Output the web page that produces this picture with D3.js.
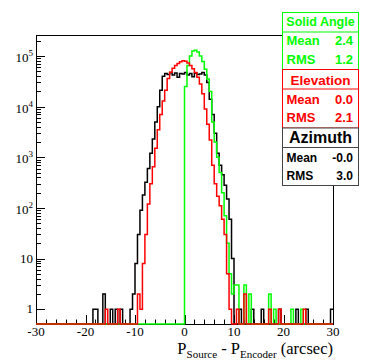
<!DOCTYPE html>
<html>
<head>
<meta charset="utf-8">
<script src="https://cdn.jsdelivr.net/npm/d3@7"></script>
<style>
  html, body { margin: 0; padding: 0; background: #fff; }
  svg { display: block; }
</style>
</head>
<body>
<div id="container"></div>
<script>
// histogram range: 120 bins of 0.5 arcsec from -30 to 30
const xLo = -30, xHi = 30, binWidth = 0.5;

const azimuth = [
  0, 0, 0, 0, 0, 0, 0, 0, 0, 0,
  0, 0, 0, 0, 0, 0, 0, 0, 0, 0,
  0, 0, 0, 1, 1, 0, 0, 2, 0, 0,
  1, 0, 1, 0, 1, 0, 0, 0, 1, 2,
  8, 30, 90, 180, 320, 600, 1200, 2300, 5000, 10000,
  21000, 40000, 45000, 43000, 47000, 42000, 46000, 38000, 45000, 44000,
  47000, 42000, 45000, 39000, 46000, 43000, 44000, 47000, 42000, 30000,
  14000, 7000, 3000, 1200, 700, 450, 280, 150, 60, 10,
  0, 0, 1, 0, 0, 0, 0, 1, 0, 0,
  0, 1, 0, 0, 0, 0, 0, 0, 1, 0,
  0, 0, 0, 0, 0, 1, 0, 0, 0, 1,
  0, 0, 0, 0, 0, 0, 0, 0, 0, 1
];

const elevation = [
  0, 0, 0, 0, 0, 0, 0, 0, 0, 0,
  0, 0, 0, 0, 0, 0, 0, 0, 0, 0,
  0, 0, 0, 0, 0, 0, 0, 0, 1, 0,
  0, 0, 0, 1, 0, 0, 0, 0, 0, 0,
  0, 2, 1, 8, 30, 120, 300, 650, 1500, 3500,
  7000, 13000, 21000, 36000, 48000, 57000, 65000, 71000, 77000, 81000,
  79000, 73000, 65000, 56000, 47000, 38000, 28000, 18000, 9000, 4500,
  2200, 700, 300, 170, 110, 60, 30, 5, 1, 0,
  0, 1, 0, 0, 2, 0, 0, 0, 0, 0,
  0, 0, 0, 0, 1, 0, 0, 0, 1, 0,
  0, 0, 0, 0, 0, 0, 0, 0, 1, 0,
  0, 0, 0, 0, 0, 0, 0, 0, 0, 0
];

const solidAngle = [
  0, 0, 0, 0, 0, 0, 0, 0, 0, 0,
  0, 0, 0, 0, 0, 0, 0, 0, 0, 0,
  0, 0, 0, 0, 0, 0, 0, 0, 0, 0,
  0, 0, 0, 0, 0, 0, 0, 0, 0, 0,
  0, 0, 0, 0, 0, 0, 0, 0, 0, 0,
  0, 0, 0, 0, 0, 0, 0, 0, 0, 0,
  25000, 65000, 100000, 125000, 130000, 120000, 100000, 78000, 55000, 35000,
  20000, 5000, 2000, 1000, 500, 200, 70, 20, 5, 2,
  3, 3, 0, 0, 3, 0, 2, 0, 0, 0,
  0, 0, 0, 0, 2, 0, 1, 0, 0, 0,
  0, 0, 0, 1, 0, 0, 0, 1, 0, 0,
  0, 0, 0, 0, 0, 0, 0, 0, 0, 0
];

const xTicks = [-30, -20, -10, 0, 10, 20, 30];
const yTicks = [1, 10, 100, 1000, 10000, 100000];
const yExponents = ["", "", "2", "3", "4", "5"];

// stat boxes, top to bottom
const boxTitles = ["Solid Angle", "Elevation", "Azimuth"];
const boxColors = ["#00ff00", "#ff0000", "#000000"];
const boxMeans = ["2.4", "0.0", "-0.0"];
const boxRms = ["1.2", "2.1", "3.0"];

const W = 371, H = 361;
const frame = {left: 36, right: 333, top: 35, bottom: 324};

const svg = d3.select("#container")
  .append("svg")
  .attr("width", W)
  .attr("height", H)
  .style("background", "#fff");

//SCALES
const x = d3.scaleLinear().domain([xLo, xHi]).range([frame.left, frame.right]);
const y = d3.scaleLog().domain([0.51, 2.6e5]).range([frame.bottom, frame.top]).clamp(true);

const edges = d3.range(azimuth.length).map(i => xLo + i * binWidth);

//THE FRAME
svg.append("rect")
  .attr("x", frame.left + 0.5)
  .attr("y", frame.top + 0.5)
  .attr("width", frame.right - frame.left)
  .attr("height", frame.bottom - frame.top)
  .attr("fill", "none")
  .attr("stroke", "#000")
  .attr("stroke-width", 1);

//TICKS - drawn inside the frame like ROOT
const xMinor = d3.range(xLo, xHi + 0.01, 2);
svg.append("g").selectAll("line")
  .data(xMinor)
  .enter()
  .append("line")
  .attr("x1", d => Math.round(x(d)) + 0.5)
  .attr("x2", d => Math.round(x(d)) + 0.5)
  .attr("y1", frame.bottom)
  .attr("y2", d => frame.bottom - (d % 10 === 0 ? 9 : 4.5))
  .attr("stroke", "#000");

const yAll = y.ticks().filter(v => v >= 1);
svg.append("g").selectAll("line")
  .data(yAll)
  .enter()
  .append("line")
  .attr("x1", frame.left)
  .attr("x2", d => frame.left + (yTicks.includes(d) ? 9 : 5))
  .attr("y1", d => Math.round(y(d)) + 0.5)
  .attr("y2", d => Math.round(y(d)) + 0.5)
  .attr("stroke", "#000");

//TICK LABELS
svg.append("g").selectAll("text")
  .data(xTicks)
  .enter()
  .append("text")
  .attr("x", d => x(d))
  .attr("y", 336)
  .attr("text-anchor", "middle")
  .attr("font-family", "'Liberation Serif', 'Times New Roman', serif")
  .attr("font-size", 13)
  .text(d => d);

const yl = svg.append("g").selectAll("text")
  .data(yTicks)
  .enter()
  .append("text")
  .attr("x", 33)
  .attr("y", (d, i) => y(d) + (yExponents[i] ? 6 : 4))
  .attr("text-anchor", "end")
  .attr("font-family", "'Liberation Serif', 'Times New Roman', serif")
  .attr("font-size", 13);
yl.each(function(d, i) {
  const t = d3.select(this);
  if (yExponents[i]) {
    t.append("tspan").text("10");
    t.append("tspan").attr("dy", -6).attr("font-size", 9).text(yExponents[i]);
  } else {
    t.text(d);
  }
});

//AXIS TITLE
const title = svg.append("text")
  .attr("x", 333)
  .attr("y", 354)
  .attr("text-anchor", "end")
  .attr("font-family", "'Liberation Serif', 'Times New Roman', serif")
  .attr("font-size", 16.5);
title.append("tspan").text("P");
title.append("tspan").attr("dy", 3.5).attr("font-size", 11).text("Source");
title.append("tspan").attr("dy", -3.5).text(" - P");
title.append("tspan").attr("dy", 3.5).attr("font-size", 11).text("Encoder");
title.append("tspan").attr("dy", -3.5).text(" (arcsec)");

//THE HISTOGRAMS
const step = d3.line()
  .x(d => x(d[0]))
  .y(d => y(d[1] > 0 ? d[1] : 0.51))
  .curve(d3.curveStepAfter);

function histPoints(vals) {
  const pts = vals.map((v, i) => [edges[i], v]);
  pts.push([xHi, vals[vals.length - 1]]);
  return pts;
}

const plot = svg.append("g");
[[azimuth, "#000000"], [solidAngle, "#00ff00"], [elevation, "#ff0000"]].forEach(h => {
  plot.append("path")
    .attr("d", step(histPoints(h[0])))
    .attr("fill", "none")
    .attr("stroke", h[1])
    .attr("stroke-width", 1.5);
});

//STAT BOXES
const boxX = 282, boxW = 76;
const boxTop = [12, 69, 127.5];
const boxH = [57, 58.5, 57.5];
const rowY = [[25.5, 45, 64], [85.3, 104, 122.3], [143.3, 161.7, 180.3]];
const titleSize = [12.5, 13.5, 16];

boxTitles.forEach((name, i) => {
  const g = svg.append("g");
  const c = boxColors[i];
  g.append("rect")
    .attr("x", boxX + 0.5)
    .attr("y", boxTop[i] + 0.5)
    .attr("width", boxW)
    .attr("height", boxH[i])
    .attr("fill", "#fff")
    .attr("stroke", i === 2 ? "#444" : c);
  g.append("line")
    .attr("x1", boxX)
    .attr("x2", boxX + boxW)
    .attr("y1", boxTop[i] + 20)
    .attr("y2", boxTop[i] + 20)
    .attr("stroke", i === 2 ? "#444" : c);
  g.append("text")
    .attr("x", boxX + boxW / 2 + 0.5)
    .attr("y", rowY[i][0])
    .attr("text-anchor", "middle")
    .attr("font-family", "'Liberation Sans', Arial, sans-serif")
    .attr("font-weight", "bold")
    .attr("font-size", titleSize[i])
    .attr("fill", c)
    .text(name);
  const fs = i === 2 ? 12 : 13;
  [["Mean", boxMeans[i]], ["RMS", boxRms[i]]].forEach((r, j) => {
    g.append("text")
      .attr("x", boxX + 4.5)
      .attr("y", rowY[i][j + 1])
      .attr("font-family", "'Liberation Sans', Arial, sans-serif")
      .attr("font-weight", "bold")
      .attr("font-size", fs)
      .attr("fill", c)
      .text(r[0]);
    g.append("text")
      .attr("x", boxX + 71)
      .attr("y", rowY[i][j + 1])
      .attr("text-anchor", "end")
      .attr("font-family", "'Liberation Sans', Arial, sans-serif")
      .attr("font-weight", "bold")
      .attr("font-size", fs)
      .attr("fill", c)
      .text(r[1]);
  });
});
</script>
</body>
</html>
